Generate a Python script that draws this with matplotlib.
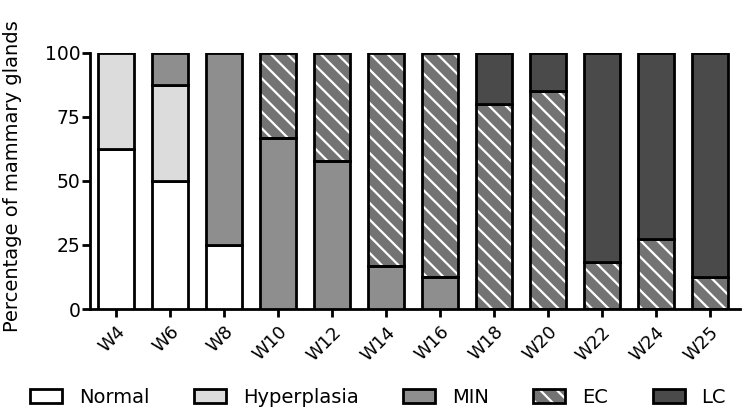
import numpy as np
import matplotlib
matplotlib.use('Agg')
import matplotlib.pyplot as plt
from matplotlib.patches import Patch

# percentage of glands in each stage, per week
weeks = ['W4', 'W6', 'W8', 'W10', 'W12', 'W14', 'W16', 'W18', 'W20', 'W22', 'W24', 'W25']
normal = [62.5, 50, 25, 0, 0, 0, 0, 0, 0, 0, 0, 0]
hyperplasia = [37.5, 37.5, 0, 0, 0, 0, 0, 0, 0, 0, 0, 0]
min_stage = [0, 12.5, 75, 66.7, 57.8, 16.7, 12.5, 0, 0, 0, 0, 0]
ec = [0, 0, 0, 33.3, 42.2, 83.3, 87.5, 80, 85, 18.2, 27.3, 12.5]
lc = [0, 0, 0, 0, 0, 0, 0, 20, 15, 81.8, 72.7, 87.5]

stage_names = ['Normal', 'Hyperplasia', 'MIN', 'EC', 'LC']
stage_colors = ['#ffffff', '#dcdcdc', '#8e8e8e', '#737373', '#4a4a4a']

plt.rcParams['font.family'] = ['DejaVu Sans']
plt.rcParams['hatch.linewidth'] = 1.6

fig = plt.figure(figsize=(7.47, 4.15), dpi=100)
ax = fig.add_axes([0.1205, 0.2554, 0.870, 0.6176])

x = np.arange(len(weeks))
w = 0.67
lw = 2
bottom = np.zeros(len(weeks))
handles = []
for name, vals, col in zip(stage_names, [normal, hyperplasia, min_stage, ec, lc], stage_colors):
    vals = np.array(vals, dtype=float)
    keep = vals > 0
    if name == 'EC':
        ax.bar(x[keep], vals[keep], w, bottom=bottom[keep], color=col,
               edgecolor='white', linewidth=0, hatch='\\\\', zorder=2)
        ax.bar(x[keep], vals[keep], w, bottom=bottom[keep], fill=False,
               edgecolor='black', linewidth=lw, zorder=3)
        h = (Patch(facecolor=col, edgecolor='white', linewidth=0, hatch='\\\\'),
             Patch(fill=False, edgecolor='black', linewidth=lw))
    else:
        ax.bar(x[keep], vals[keep], w, bottom=bottom[keep], color=col,
               edgecolor='black', linewidth=lw, zorder=3)
        h = Patch(facecolor=col, edgecolor='black', linewidth=lw)
    handles.append(h)
    bottom += vals

ax.set_xlim(-0.48, 11.56)
ax.set_ylim(0, 100)
ax.set_yticks([0, 25, 50, 75, 100])
ax.set_xticks(x)
ax.set_xticklabels(weeks, rotation=45, ha='right', rotation_mode='anchor')

for s in ['top', 'right']:
    ax.spines[s].set_visible(False)
for s in ['left', 'bottom']:
    ax.spines[s].set_linewidth(lw)
ax.tick_params(axis='both', direction='out', length=6, width=lw, labelsize=13.5)
ax.tick_params(axis='y', pad=1)
ax.tick_params(axis='x', pad=4, labelsize=13)

ax.set_ylabel('Percentage of mammary glands', fontsize=14)
ax.yaxis.set_label_coords(-0.104, 0.52)

fig.legend(handles, stage_names, loc='center', bbox_to_anchor=(0.506, 0.043),
           ncol=5, frameon=False, fontsize=14, handlelength=1.65, handleheight=0.77,
           handletextpad=0.85, columnspacing=2.3, borderaxespad=0)

plt.savefig('out.png', dpi=100)
